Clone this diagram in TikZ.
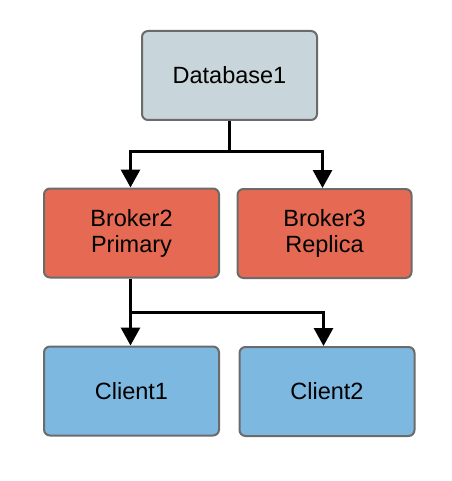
\documentclass[tikz,border=0pt]{standalone}
\usepackage{fontspec}
\setmainfont{Liberation Sans}
\usetikzlibrary{arrows.meta}
\definecolor{dbfill}{HTML}{C8D5DB}
\definecolor{brfill}{HTML}{E66A53}
\definecolor{clfill}{HTML}{7DB8E1}
\definecolor{bordergray}{HTML}{6B6B6B}
\begin{document}
\begin{tikzpicture}[x=1pt,y=-1pt,
  box/.style={draw=bordergray, line width=2pt, rounded corners=6pt, minimum width=175pt, minimum height=89pt, inner sep=0pt, align=center, font=\fontsize{23.5}{26}\selectfont},
  conn/.style={line width=3pt, -{Triangle[width=19pt,length=18pt]}}
]
\useasboundingbox (0,0) rectangle (451,481);
\node[box, fill=dbfill] (db) at (229.5,75.5) {Database1};
\node[box, fill=brfill] (b2) at (131.5,233) {Broker2\\Primary};
\node[box, fill=brfill, minimum width=174pt] (b3) at (324.5,233.5) {Broker3\\Replica};
\node[box, fill=clfill] (c1) at (131.5,391) {Client1};
\node[box, fill=clfill] (c2) at (327,391.5) {Client2};
\coordinate (j1) at (229.5,152);
\coordinate (j2) at (130.5,312);
\draw[line width=3pt] (db.south) -- (j1);
\draw[conn] (j1) -| ([xshift=-1pt]b2.north);
\draw[conn] (j1) -| ([xshift=-2pt]b3.north);
\draw[line width=3pt] ([xshift=-1pt]b2.south) -- (j2);
\draw[conn] (j2) -- ([xshift=-1pt]c1.north);
\draw[conn] (j2) -| ([xshift=-3.5pt]c2.north);
\end{tikzpicture}
\end{document}
